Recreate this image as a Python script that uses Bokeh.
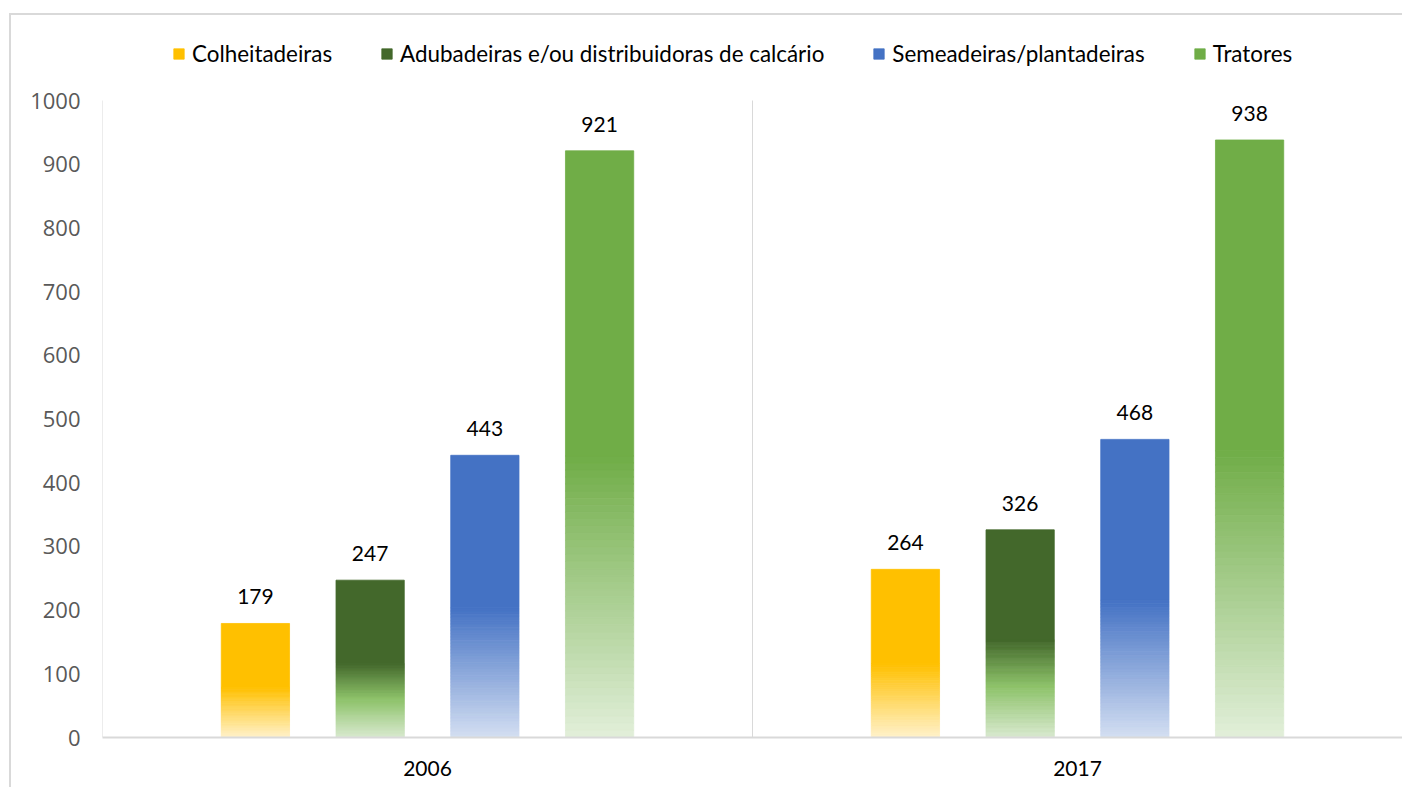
from bokeh.plotting import figure
from bokeh.models import (ColumnDataSource, Range1d, FixedTicker, Legend, LegendItem,
                          LabelSet, InlineStyleSheet)
from bokeh.core.properties import value
from bokeh.embed import file_html
from bokeh.resources import INLINE

# ---------------- data ----------------
years = ["2006", "2017"]
series = ["Colheitadeiras", "Adubadeiras e/ou distribuidoras de calcário",
          "Semeadeiras/plantadeiras", "Tratores"]
colheitadeiras = [179, 264]
adubadeiras = [247, 326]
semeadeiras = [443, 468]
tratores = [921, 938]
values = [colheitadeiras, adubadeiras, semeadeiras, tratores]
y_max = 1000

# ---------------- style ----------------
# gradient stops (fraction of bar height from the bottom, colour); solid above last stop
stops = [
    [(0.0, "#FFF2CC"), (0.44, "#FFC000")],
    [(0.0, "#D9EAD0"), (0.25, "#8CC168"), (0.47, "#43682B")],
    [(0.0, "#D4DFF2"), (0.46, "#4472C4")],
    [(0.0, "#E2EFDA"), (0.48, "#70AD47")],
]
CAT_PX = 650          # pixels per year category
AXIS_PX = 637         # pixels for 0..y_max
W, H = 1402, 787
ML, MR, MT, MB = 102, 0, 20, 50
frame_w = W - ML - MR
frame_h = H - MT - MB
bar_step = 0.1765
bar_w = 0.105
LABEL_FONT = "Lato"
TICK_FONT = "Open Sans"
GRID = "#d9d9d9"


def hex2rgb(h):
    h = h.lstrip("#")
    return tuple(int(h[i:i + 2], 16) for i in (0, 2, 4))


def mix(c1, c2, t):
    a, b = hex2rgb(c1), hex2rgb(c2)
    return "#%02x%02x%02x" % tuple(round(a[j] + (b[j] - a[j]) * t) for j in range(3))


# outer chart-area border (left and top edges only, as in the reference crop)
css = """
:host::after {
  content: "";
  position: absolute;
  left: 9px; top: 13px; right: 0px; bottom: 0px;
  border: none;
  background:
    linear-gradient(#d9d9d9, #d9d9d9) left top / 2px 100% no-repeat,
    linear-gradient(#d9d9d9, #d9d9d9) left top / 100% 2px no-repeat;
  pointer-events: none;
}
"""

p = figure(width=W, height=H, output_backend="svg", toolbar_location=None,
           x_range=Range1d(0, frame_w / CAT_PX),
           y_range=Range1d(0, y_max * frame_h / AXIS_PX),
           min_border_left=ML, min_border_right=MR, min_border_top=MT, min_border_bottom=MB,
           stylesheets=[InlineStyleSheet(css=css)])
p.outline_line_color = None
p.background_fill_color = "white"
p.border_fill_color = "white"

# axis line and category separator (span 0..y_max only)
p.segment(x0=[0, 1], y0=[0, 0], x1=[0, 1], y1=[y_max, y_max], line_color=GRID, line_width=1)

legend_items = []
label_x, label_y, label_t = [], [], []
N = 40
for k, name in enumerate(series):
    L, R, B, T, C = [], [], [], [], []
    sL, sR, sB, sT = [], [], [], []
    for i, yr in enumerate(years):
        v = values[k][i]
        xc = i + 0.5 + (k - 1.5) * bar_step
        st = stops[k]
        for s in range(len(st) - 1):
            f0, c0 = st[s]
            f1, c1 = st[s + 1]
            for n in range(N):
                t0 = n / N
                t1 = (n + 1) / N
                L.append(xc - bar_w / 2)
                R.append(xc + bar_w / 2)
                B.append(v * (f0 + (f1 - f0) * t0))
                T.append(v * (f0 + (f1 - f0) * t1))
                C.append(mix(c0, c1, (t0 + t1) / 2))
        sL.append(xc - bar_w / 2)
        sR.append(xc + bar_w / 2)
        sB.append(v * st[-1][0])
        sT.append(v)
        label_x.append(xc)
        label_y.append(v)
        label_t.append(str(v))
    gsrc = ColumnDataSource(dict(left=L, right=R, bottom=B, top=T, color=C))
    p.quad(left="left", right="right", bottom="bottom", top="top", source=gsrc,
           fill_color="color", line_color="color", line_width=0.8)
    solid = p.quad(left=sL, right=sR, bottom=sB, top=sT, fill_color=stops[k][-1][1],
                   line_color=stops[k][-1][1], line_width=0.8)
    legend_items.append(LegendItem(label=name, renderers=[solid]))

lsrc = ColumnDataSource(dict(x=label_x, y=label_y, text=label_t))
p.add_layout(LabelSet(x="x", y="y", text="text", source=lsrc, text_align="center",
                      text_baseline="bottom", y_offset=19, text_font=value(LABEL_FONT),
                      text_font_size=value("21px"), text_color="#000000"))

# axes
p.xaxis.ticker = FixedTicker(ticks=[0.5, 1.5])
p.xaxis.major_label_overrides = {0.5: years[0], 1.5: years[1]}
p.xaxis.major_tick_line_color = None
p.xaxis.minor_tick_line_color = None
p.xaxis.axis_line_color = GRID
p.xaxis.axis_line_width = 2
p.xaxis.major_label_standoff = 17
p.xaxis.major_label_text_font = LABEL_FONT
p.xaxis.major_label_text_font_size = "21px"
p.xaxis.major_label_text_color = "#000000"

p.yaxis.ticker = FixedTicker(ticks=list(range(0, y_max + 1, 100)))
p.yaxis.major_tick_line_color = None
p.yaxis.minor_tick_line_color = None
p.yaxis.axis_line_color = None
p.yaxis.major_label_standoff = 16
p.yaxis.major_label_text_font = TICK_FONT
p.yaxis.major_label_text_font_size = "22px"
p.yaxis.major_label_text_color = "#595959"

p.ygrid.grid_line_color = None
p.xgrid.grid_line_color = None

legend = Legend(items=legend_items, orientation="horizontal", location=(70, 670),
                spacing=48, glyph_width=13, glyph_height=13, label_standoff=7,
                padding=0, margin=0, border_line_alpha=0, background_fill_alpha=0,
                label_text_font=LABEL_FONT, label_text_font_size="22.4px",
                label_text_color="#000000")
p.add_layout(legend)

open("out.html", "w").write(file_html(p, INLINE))
